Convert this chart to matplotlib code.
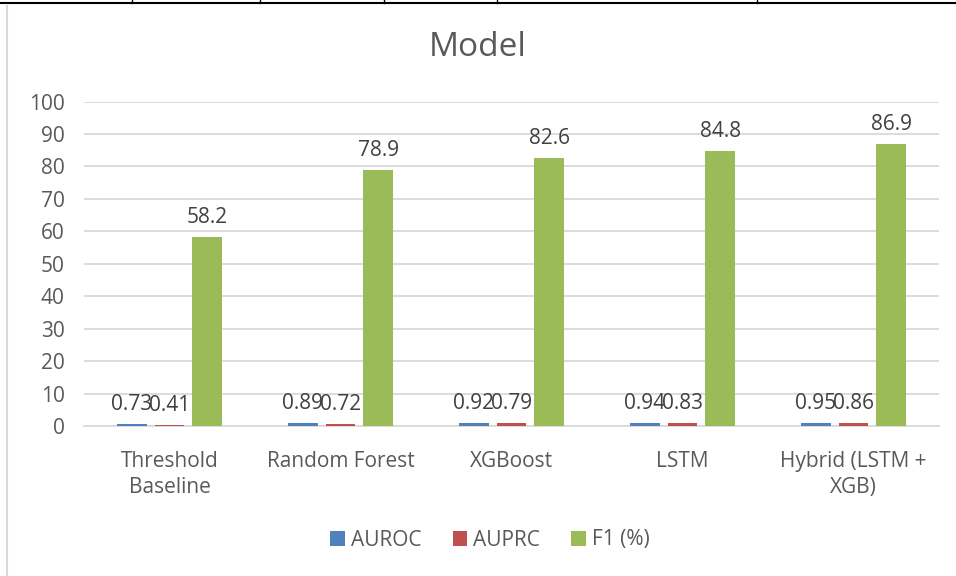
import numpy as np
import matplotlib.pyplot as plt
from matplotlib.lines import Line2D
from matplotlib.patches import Patch

# --- Data ---
categories = ["Threshold\nBaseline", "Random Forest", "XGBoost", "LSTM", "Hybrid (LSTM +\nXGB)"]
auroc = [0.73, 0.89, 0.92, 0.94, 0.95]
auprc = [0.41, 0.72, 0.79, 0.83, 0.86]
f1 = [58.2, 78.9, 82.6, 84.8, 86.9]
series_names = ["AUROC", "AUPRC", "F1 (%)"]
yticks = list(range(0, 101, 10))

colors = ["#4F81BD", "#C0504D", "#9BBB59"]
text_col = "#595959"
label_col = "#404040"
plt.rcParams['font.family'] = ['Open Sans', 'DejaVu Sans']

W, H = 956, 576
fig = plt.figure(figsize=(W / 100, H / 100), dpi=100, facecolor='white')
ax = fig.add_axes([84 / W, 1 - 426 / H, (939 - 84) / W, (426 - 101.5) / H])

x = np.arange(len(categories))
bw = 0.175
step = 0.222
for i, (vals, c, name) in enumerate(zip([auroc, auprc, f1], colors, series_names)):
    pos = x + (i - 1) * step
    bars = ax.bar(pos, vals, width=bw, color=c, label=name, zorder=3)
    for b, v in zip(bars, vals):
        ax.annotate(f"{v:g}", (b.get_x() + b.get_width() / 2, b.get_height()),
                    xytext=(0, 6.5), textcoords='offset points', ha='center', va='bottom',
                    fontsize=15, color=label_col)

ax.set_xlim(-0.5, len(categories) - 0.5)
ax.set_ylim(0, 100)
ax.set_yticks(yticks)
ax.yaxis.grid(True, color='#D9D9D9', linewidth=1.3, zorder=0)
ax.set_axisbelow(True)
for s in ['top', 'right', 'left']:
    ax.spines[s].set_visible(False)
ax.spines['bottom'].set_color('#D9D9D9')
ax.spines['bottom'].set_linewidth(1.3)
ax.tick_params(axis='both', length=0, labelsize=15, colors=text_col)
ax.tick_params(axis='y', pad=14)
ax.tick_params(axis='x', pad=18)
ax.set_xticks(x)
ax.set_xticklabels(categories, linespacing=1.3)

fig.text(0.5, 1 - 47 / H, "Model", ha='center', va='center', fontsize=24, color=text_col)

handles = [Patch(facecolor=c, label=n) for c, n in zip(colors, series_names)]
fig.legend(handles=handles, loc='center', bbox_to_anchor=(490 / W, 1 - 540 / H), ncol=3,
           frameon=False, fontsize=15, labelcolor=text_col, handlelength=0.7,
           handleheight=0.7, handletextpad=0.3, columnspacing=1.5)

# table borders from the surrounding document
fig.add_artist(Line2D([0, 1], [1 - 3 / H] * 2, color='black', linewidth=1.5))
for tx in [132, 260, 384, 497, 757]:
    fig.add_artist(Line2D([tx / W] * 2, [1 - 3 / H, 1], color='black', linewidth=1))
fig.add_artist(Line2D([7 / W] * 2, [0, 1 - 6 / H], color='#D9D9D9', linewidth=1.5))

fig.savefig("out.png", dpi=100, facecolor='white')
